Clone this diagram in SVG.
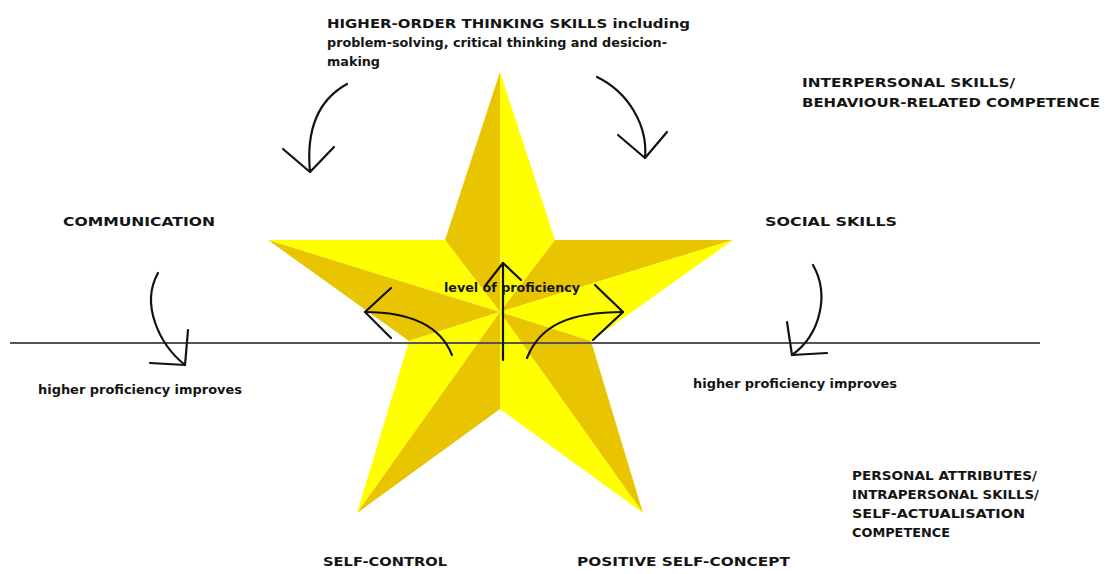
<svg xmlns="http://www.w3.org/2000/svg" width="1105" height="574" viewBox="0 0 1105 574">
<style>
.b{fill:#FFFF00}
.d{fill:#E8C500}
.t{font-family:"DejaVu Sans","Liberation Sans",sans-serif;font-weight:bold;font-size:13px;fill:#141414}
.s{font-family:"DejaVu Sans","Liberation Sans",sans-serif;font-weight:bold;font-size:12px;fill:#141414}
.a{fill:none;stroke:#111;stroke-width:2.2;stroke-linecap:round;stroke-linejoin:round}
</style>
<rect width="1105" height="574" fill="#fff"/>
<g id="star">
<polygon class="d" points="500,72 445,240 500,312"/>
<polygon class="b" points="500,72 500,312 555,240"/>
<polygon class="b" points="268,240 445,240 500,312"/>
<polygon class="d" points="268,240 500,312 409,341"/>
<polygon class="d" points="733,240 555,240 500,312"/>
<polygon class="b" points="733,240 500,312 591,341"/>
<polygon class="b" points="357,513 409,341 500,312"/>
<polygon class="d" points="357,513 500,312 500,409"/>
<polygon class="b" points="643,513 500,409 500,312"/>
<polygon class="d" points="643,513 500,312 591,341"/>
</g>
<g id="baseline">
<line x1="10" y1="343" x2="1040" y2="343" stroke="#555" stroke-width="2"/>
</g>
<g id="connectors">
<path class="a" d="M347,84 C318,100 306,130 310,172"/>
<polyline class="a" points="283,149 310,172 334,147"/>
<path class="a" d="M597,77 C628,92 648,125 645,158"/>
<polyline class="a" points="618,135 645,158 667,132"/>
<path class="a" d="M158,273 C140,305 160,345 185,365"/>
<polyline class="a" points="150,363 185,365 188,330"/>
<path class="a" d="M813,265 C830,295 820,335 792,355"/>
<polyline class="a" points="787,322 792,355 827,353"/>
<path class="a" d="M503,360 L503,263"/>
<polyline class="a" points="485,286 503,263 521,280"/>
<path class="a" d="M452,355 C440,325 410,312 365,312"/>
<polyline class="a" points="391,288 365,312 391,338"/>
<path class="a" d="M527,358 C540,325 570,312 623,312"/>
<polyline class="a" points="595,285 623,312 593,340"/>
</g>
<g id="higher-order">
<text class="t" x="327" y="28" textLength="363" lengthAdjust="spacingAndGlyphs">HIGHER-ORDER THINKING SKILLS including</text>
<text class="t" x="327" y="47" textLength="340" lengthAdjust="spacingAndGlyphs">problem-solving, critical thinking and desicion-</text>
<text class="t" x="327" y="66" textLength="53" lengthAdjust="spacingAndGlyphs">making</text>
</g>
<g id="interpersonal">
<text class="t" x="802" y="87" textLength="213" lengthAdjust="spacingAndGlyphs">INTERPERSONAL SKILLS/</text>
<text class="t" x="802" y="107" textLength="298" lengthAdjust="spacingAndGlyphs">BEHAVIOUR-RELATED COMPETENCE</text>
</g>
<g id="communication">
<text class="t" x="63" y="226" textLength="152" lengthAdjust="spacingAndGlyphs">COMMUNICATION</text>
</g>
<g id="social-skills">
<text class="t" x="765" y="226" textLength="132" lengthAdjust="spacingAndGlyphs">SOCIAL SKILLS</text>
</g>
<g id="improves-left">
<text class="s" x="38" y="394" textLength="204" lengthAdjust="spacingAndGlyphs">higher proficiency improves</text>
</g>
<g id="improves-right">
<text class="s" x="693" y="388" textLength="204" lengthAdjust="spacingAndGlyphs">higher proficiency improves</text>
</g>
<g id="level">
<text class="s" x="444" y="292" textLength="136" lengthAdjust="spacingAndGlyphs">level of proficiency</text>
</g>
<g id="personal">
<text class="t" x="852" y="480" textLength="185" lengthAdjust="spacingAndGlyphs">PERSONAL ATTRIBUTES/</text>
<text class="t" x="852" y="499" textLength="187" lengthAdjust="spacingAndGlyphs">INTRAPERSONAL SKILLS/</text>
<text class="t" x="852" y="518" textLength="173" lengthAdjust="spacingAndGlyphs">SELF-ACTUALISATION</text>
<text class="t" x="852" y="537" textLength="98" lengthAdjust="spacingAndGlyphs">COMPETENCE</text>
</g>
<g id="self-control">
<text class="t" x="323" y="566" textLength="124" lengthAdjust="spacingAndGlyphs">SELF-CONTROL</text>
</g>
<g id="self-concept">
<text class="t" x="577" y="566" textLength="213" lengthAdjust="spacingAndGlyphs">POSITIVE SELF-CONCEPT</text>
</g>
</svg>
